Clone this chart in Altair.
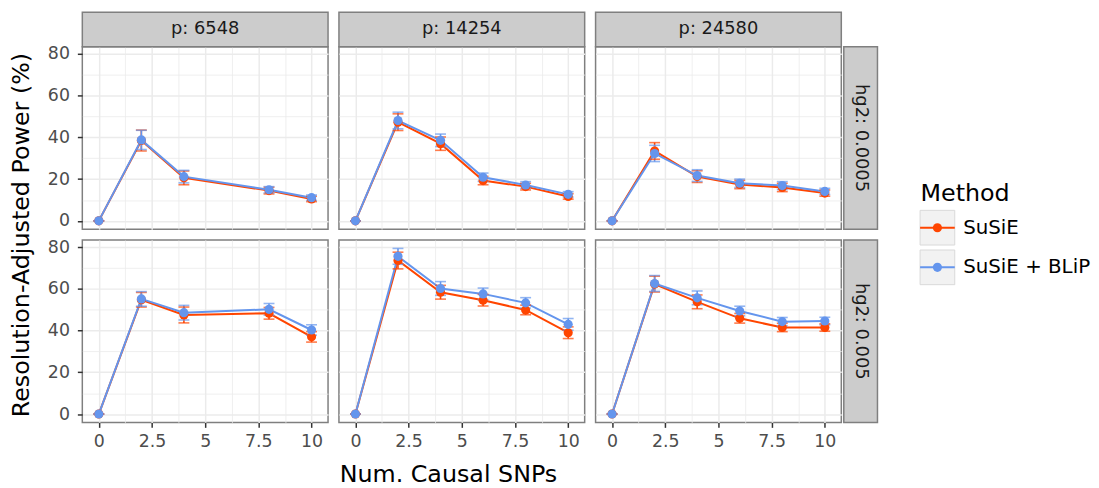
import altair as alt
import pandas as pd

# ---------------- data ----------------
P_VALUES = [6548, 14254, 24580]
HG2_VALUES = ["0.0005", "0.005"]
METHODS = ["SuSiE", "SuSiE + BLiP"]
COLORS = ["#FF4500", "#6495ED"]

X_6548 = [0, 2, 4, 8, 10]
X_FULL = [0, 2, 4, 6, 8, 10]

# hg2 = 0.0005
SUSIE_H1_P1 = [0, 38.5, 20.6, 14.5, 10.5]
SUSIE_H1_P1_SE = [0, 5.0, 3.3, 1.6, 1.3]
BLIP_H1_P1 = [0, 38.8, 21.2, 14.9, 11.1]
BLIP_H1_P1_SE = [0, 4.6, 3.0, 1.5, 1.3]

SUSIE_H1_P2 = [0, 47.3, 37.0, 19.3, 16.4, 11.7]
SUSIE_H1_P2_SE = [0, 4.0, 3.2, 2.0, 1.6, 1.3]
BLIP_H1_P2 = [0, 48.1, 38.6, 20.9, 17.2, 12.7]
BLIP_H1_P2_SE = [0, 4.0, 3.0, 2.0, 1.6, 1.3]

SUSIE_H1_P3 = [0, 33.5, 21.2, 17.4, 16.0, 13.3]
SUSIE_H1_P3_SE = [0, 4.0, 2.8, 2.0, 2.0, 1.5]
BLIP_H1_P3 = [0, 32.3, 21.7, 18.0, 16.9, 14.1]
BLIP_H1_P3_SE = [0, 3.9, 2.8, 2.0, 1.9, 1.5]

# hg2 = 0.005
SUSIE_H2_P1 = [0, 54.8, 47.5, 48.3, 37.0]
SUSIE_H2_P1_SE = [0, 3.5, 3.8, 2.8, 2.5]
BLIP_H2_P1 = [0, 55.2, 48.6, 50.2, 40.3]
BLIP_H2_P1_SE = [0, 3.5, 3.5, 2.8, 2.5]

SUSIE_H2_P2 = [0, 73.6, 58.4, 54.6, 49.9, 39.0]
SUSIE_H2_P2_SE = [0, 4.0, 3.3, 2.8, 2.3, 2.8]
BLIP_H2_P2 = [0, 75.6, 60.2, 57.6, 53.3, 43.0]
BLIP_H2_P2_SE = [0, 3.8, 3.3, 2.8, 2.5, 2.8]

SUSIE_H2_P3 = [0, 62.3, 53.8, 45.9, 41.5, 41.5]
SUSIE_H2_P3_SE = [0, 3.8, 3.3, 2.3, 2.0, 1.8]
BLIP_H2_P3 = [0, 62.6, 55.7, 49.4, 44.3, 44.6]
BLIP_H2_P3_SE = [0, 3.8, 3.3, 2.3, 2.0, 1.8]

X_GRID = [0, 1.25, 2.5, 3.75, 5, 6.25, 7.5, 8.75, 10]
Y_GRID = [0, 10, 20, 30, 40, 50, 60, 70, 80]

X_TITLE = "Num. Causal SNPs"
Y_TITLE = "Resolution-Adjusted Power (%)"
LEGEND_TITLE = "Method"

PANEL_SERIES = [
    ("0.0005", 6548, X_6548, SUSIE_H1_P1, SUSIE_H1_P1_SE, BLIP_H1_P1, BLIP_H1_P1_SE),
    ("0.0005", 14254, X_FULL, SUSIE_H1_P2, SUSIE_H1_P2_SE, BLIP_H1_P2, BLIP_H1_P2_SE),
    ("0.0005", 24580, X_FULL, SUSIE_H1_P3, SUSIE_H1_P3_SE, BLIP_H1_P3, BLIP_H1_P3_SE),
    ("0.005", 6548, X_6548, SUSIE_H2_P1, SUSIE_H2_P1_SE, BLIP_H2_P1, BLIP_H2_P1_SE),
    ("0.005", 14254, X_FULL, SUSIE_H2_P2, SUSIE_H2_P2_SE, BLIP_H2_P2, BLIP_H2_P2_SE),
    ("0.005", 24580, X_FULL, SUSIE_H2_P3, SUSIE_H2_P3_SE, BLIP_H2_P3, BLIP_H2_P3_SE),
]

rows = []
for mi, method in enumerate(METHODS):
    for hg2, p, xs, sm, sse, bm, bse in PANEL_SERIES:
        means, ses = (sm, sse) if mi == 0 else (bm, bse)
        for x, m, s in zip(xs, means, ses):
            rows.append({"hg2": hg2, "p": p, "method": method, "x": x,
                         "mean": m, "lo": m - s, "hi": m + s})
df = pd.DataFrame(rows)

# ---------------- style ----------------
PW, PH = 248, 184
XDOM = [-0.775, 10.775]
YDOM = [-4.0, 83.4]
STRIP_FILL = "#cccccc"
BORDER = "#7f7f7f"
FONT = "DejaVu Sans"
TICK_FS = 17.5
STRIP_FS = 18

X_MINOR = "datum.value % 2.5 !== 0"
Y_MINOR = "datum.value % 20 !== 0"


def grid_props(minor_test):
    return dict(
        grid=True,
        gridColor="#ebebeb",
        gridWidth={"condition": {"test": minor_test, "value": 0.8}, "value": 1.5},
        domain=False,
    )


def x_axis(show, title):
    props = grid_props(X_MINOR)
    props["values"] = X_GRID
    if show:
        props.update(
            labelExpr="datum.value % 2.5 === 0 ? '' + datum.value : ''",
            tickColor={"condition": {"test": X_MINOR, "value": "transparent"}, "value": "#333333"},
            tickSize=5, tickWidth=1.5, labelPadding=5,
            labelFontSize=TICK_FS, labelColor="#4d4d4d",
        )
    else:
        props.update(labels=False, ticks=False)
    if title:
        props.update(title=X_TITLE, titleFontSize=24, titleFontWeight="normal",
                     titleColor="#000000", titlePadding=13, titleX=110)
    else:
        props["title"] = None
    return alt.Axis(**props)


def y_axis(show, title):
    props = grid_props(Y_MINOR)
    props["values"] = Y_GRID
    if show:
        props.update(
            labelExpr="datum.value % 20 === 0 ? '' + datum.value : ''",
            tickColor={"condition": {"test": Y_MINOR, "value": "transparent"}, "value": "#333333"},
            tickSize=5, tickWidth=1.5, labelPadding=8,
            labelFontSize=TICK_FS, labelColor="#4d4d4d",
        )
    else:
        props.update(labels=False, ticks=False)
    if title:
        props.update(title=Y_TITLE, titleFontSize=24, titleFontWeight="normal",
                     titleColor="#000000", titlePadding=14, titleY=189.5)
    else:
        props["title"] = None
    return alt.Axis(**props)


color_enc = alt.Color("method:N", scale=alt.Scale(domain=METHODS, range=COLORS), legend=None)


def panel(idx):
    hg2, p = PANEL_SERIES[idx][0], PANEL_SERIES[idx][1]
    row, col = idx // 3, idx % 3
    xa = x_axis(row == 1, row == 1 and col == 1)
    ya = y_axis(col == 0, row == 0 and col == 0)
    xs = alt.Scale(domain=XDOM, nice=False, zero=False)
    ys = alt.Scale(domain=YDOM, nice=False, zero=False)
    X = alt.X("x:Q", scale=xs, axis=xa)

    def Y(field):
        return alt.Y(field, type="quantitative", scale=ys, axis=ya)

    base = alt.Chart(df).transform_filter(
        (alt.datum.hg2 == hg2) & (alt.datum.p == p))
    line = base.mark_line(strokeWidth=2).encode(x=X, y=Y("mean"), color=color_enc)
    bars = base.mark_rule(strokeWidth=1.6).encode(
        x=X, y=Y("lo"), y2=alt.Y2("hi"), color=color_enc)
    cap_lo = base.mark_tick(orient="horizontal", size=11, thickness=1.6).encode(
        x=X, y=Y("lo"), color=color_enc)
    cap_hi = base.mark_tick(orient="horizontal", size=11, thickness=1.6).encode(
        x=X, y=Y("hi"), color=color_enc)
    pts = base.mark_circle(size=85, opacity=1).encode(x=X, y=Y("mean"), color=color_enc)
    layers = [line, bars, cap_lo, cap_hi, pts]

    if row == 0:
        sdf = pd.DataFrame({"label": [f"p: {p}"]})
        layers.append(alt.Chart(sdf).mark_rect(
            fill=STRIP_FILL, stroke=BORDER, strokeWidth=1.5).encode(
            x=alt.value(0), x2=alt.value(PW), y=alt.value(-35), y2=alt.value(0)))
        layers.append(alt.Chart(sdf).mark_text(
            fontSize=STRIP_FS, color="#1a1a1a", baseline="middle", align="center").encode(
            text="label:N", x=alt.value(PW / 2), y=alt.value(-17.5)))
    if col == 2:
        rdf = pd.DataFrame({"label": [f"hg2: {hg2}"]})
        layers.append(alt.Chart(rdf).mark_rect(
            fill=STRIP_FILL, stroke=BORDER, strokeWidth=1.5).encode(
            x=alt.value(PW + 2.5), x2=alt.value(PW + 36.5), y=alt.value(0), y2=alt.value(PH)))
        layers.append(alt.Chart(rdf).mark_text(
            fontSize=STRIP_FS, color="#1a1a1a", baseline="middle", align="center", angle=90).encode(
            text="label:N", x=alt.value(PW + 19.5), y=alt.value(PH / 2)))
    return alt.layer(*layers).properties(width=PW, height=PH)


grid = alt.concat(*[panel(i) for i in range(6)], columns=3,
                  spacing={"row": 11, "column": 11}, bounds="flush")

# ---------------- legend ----------------
ldf = pd.DataFrame({"method": METHODS, "slot": list(range(len(METHODS)))})
ly = alt.Y("slot:Q", scale=alt.Scale(domain=[0, 1], range=[182.5, 222.5], zero=False, nice=False),
           axis=None)
lcolor = alt.Color("method:N", scale=alt.Scale(domain=METHODS, range=COLORS), legend=None)
KX = 42
key_box = alt.Chart(ldf).mark_square(size=35 * 35, fill="#f2f2f2", stroke="#d9d9d9",
                                     strokeWidth=1, opacity=1).encode(x=alt.value(KX), y=ly)
key_line = alt.Chart(ldf).mark_rule(strokeWidth=2).encode(
    x=alt.value(KX - 17.5), x2=alt.value(KX + 17.5), y=ly, color=lcolor)
key_pt = alt.Chart(ldf).mark_circle(size=85, opacity=1).encode(x=alt.value(KX), y=ly, color=lcolor)
key_txt = alt.Chart(ldf).mark_text(align="left", baseline="middle", fontSize=20,
                                   color="#000000").encode(x=alt.value(KX + 26), y=ly, text="method:N")
ttl = alt.Chart(pd.DataFrame({"t": [LEGEND_TITLE]})).mark_text(
    align="left", baseline="middle", fontSize=24, color="#000000").encode(
    x=alt.value(KX - 17), y=alt.value(149), text="t:N")
legend = alt.layer(key_box, key_line, key_pt, key_txt, ttl).properties(
    width=190, height=250, view=alt.ViewBackground(stroke="transparent"))

chart = alt.hconcat(grid, legend, spacing=16).properties(
    padding=0, background="white"
).configure(font=FONT).configure_view(stroke=BORDER, strokeWidth=1.5)

chart.save("out.html", embed_options={"renderer": "svg", "actions": False})
